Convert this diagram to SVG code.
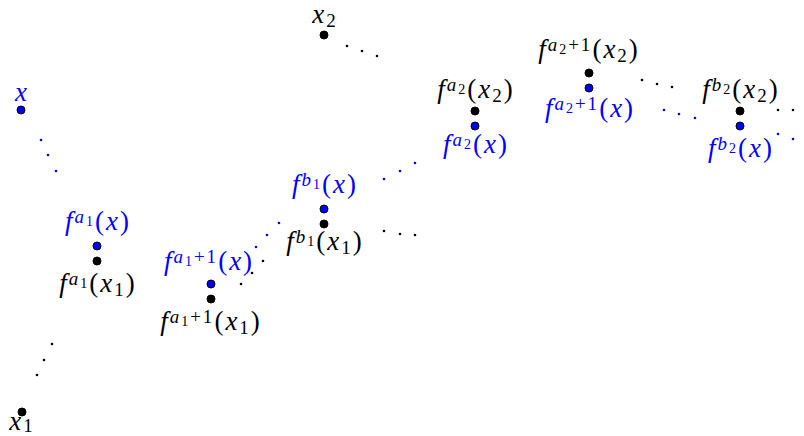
<svg xmlns="http://www.w3.org/2000/svg" width="804" height="436" viewBox="0 0 804 436">
<style>
text{font-family:"Liberation Serif","Times New Roman",serif;font-size:27px;text-anchor:middle;letter-spacing:2px}
.b{fill:#0000ff}
.k{fill:#000}
.i{font-style:italic}
.sp{font-size:19px}
.ss{font-size:14px}
.nb{fill:#0000ff;stroke:#000;stroke-width:1}
.nk{fill:#000;stroke:#000;stroke-width:1}
.db{fill:#0000ff}
.dk{fill:#000}
</style>
<rect width="804" height="436" fill="#fff"/>
<g id="connectors">
  <circle class="db" cx="41" cy="140" r="1.3"/><circle class="db" cx="48" cy="155" r="1.3"/><circle class="db" cx="56" cy="171" r="1.3"/>
  <circle class="dk" cx="52" cy="344" r="1.3"/><circle class="dk" cx="44" cy="360" r="1.3"/><circle class="dk" cx="37" cy="375" r="1.3"/>
  <circle class="dk" cx="241" cy="284" r="1.3"/><circle class="dk" cx="252" cy="273" r="1.3"/><circle class="dk" cx="263" cy="261" r="1.3"/>
  <circle class="db" cx="256" cy="247" r="1.3"/><circle class="db" cx="267" cy="235" r="1.3"/><circle class="db" cx="279" cy="223" r="1.3"/>
  <circle class="dk" cx="384" cy="231" r="1.3"/><circle class="dk" cx="400" cy="234" r="1.3"/><circle class="dk" cx="415" cy="235" r="1.3"/>
  <circle class="db" cx="384" cy="179" r="1.3"/><circle class="db" cx="400" cy="171" r="1.3"/><circle class="db" cx="415" cy="163" r="1.3"/>
  <circle class="dk" cx="347" cy="46" r="1.3"/><circle class="dk" cx="362" cy="51" r="1.3"/><circle class="dk" cx="377" cy="56" r="1.3"/>
  <circle class="dk" cx="642" cy="80" r="1.3"/><circle class="dk" cx="657" cy="84" r="1.3"/><circle class="dk" cx="672" cy="87" r="1.3"/>
  <circle class="db" cx="664" cy="110" r="1.3"/><circle class="db" cx="679" cy="114" r="1.3"/><circle class="db" cx="695" cy="118" r="1.3"/>
  <circle class="dk" cx="778" cy="110" r="1.3"/><circle class="dk" cx="793" cy="110" r="1.3"/>
  <circle class="db" cx="778" cy="134" r="1.3"/><circle class="db" cx="793" cy="139" r="1.3"/>
</g>
<g id="node-x">
  <circle class="nb" cx="21" cy="110" r="4"/>
  <text class="b i" x="22" y="101">x</text>
</g>
<g id="node-x1">
  <circle class="nk" cx="22" cy="412" r="4"/>
  <text class="k" x="22" y="430"><tspan class="i">x</tspan><tspan class="sp" dy="2">1</tspan></text>
</g>
<g id="node-fa1x">
  <circle class="nb" cx="97" cy="246" r="4"/>
  <text class="b" x="98" y="230"><tspan class="i">f</tspan><tspan class="sp i" dy="-7">a</tspan><tspan class="ss" dy="3">1</tspan><tspan dy="4">(</tspan><tspan class="i">x</tspan>)</text>
</g>
<g id="node-fa1x1">
  <circle class="nk" cx="97" cy="261" r="4"/>
  <text class="k" x="98" y="292"><tspan class="i">f</tspan><tspan class="sp i" dy="-7">a</tspan><tspan class="ss" dy="3">1</tspan><tspan dy="4">(</tspan><tspan class="i">x</tspan><tspan class="sp" dy="4">1</tspan><tspan dy="-4">)</tspan></text>
</g>
<g id="node-fa11x">
  <circle class="nb" cx="211" cy="284" r="4"/>
  <text class="b" x="209" y="270"><tspan class="i">f</tspan><tspan class="sp i" dy="-7">a</tspan><tspan class="ss" dy="3">1</tspan><tspan class="sp" dy="-3">+1</tspan><tspan dy="7">(</tspan><tspan class="i">x</tspan>)</text>
</g>
<g id="node-fa11x1">
  <circle class="nk" cx="211" cy="299" r="4"/>
  <text class="k" x="211" y="330"><tspan class="i">f</tspan><tspan class="sp i" dy="-7">a</tspan><tspan class="ss" dy="3">1</tspan><tspan class="sp" dy="-3">+1</tspan><tspan dy="7">(</tspan><tspan class="i">x</tspan><tspan class="sp" dy="4">1</tspan><tspan dy="-4">)</tspan></text>
</g>
<g id="node-fb1x">
  <circle class="nb" cx="324" cy="209" r="4"/>
  <text class="b" x="325" y="193"><tspan class="i">f</tspan><tspan class="sp i" dy="-7">b</tspan><tspan class="ss" dy="3">1</tspan><tspan dy="4">(</tspan><tspan class="i">x</tspan>)</text>
</g>
<g id="node-fb1x1">
  <circle class="nk" cx="324" cy="224" r="4"/>
  <text class="k" x="325" y="250"><tspan class="i">f</tspan><tspan class="sp i" dy="-7">b</tspan><tspan class="ss" dy="3">1</tspan><tspan dy="4">(</tspan><tspan class="i">x</tspan><tspan class="sp" dy="4">1</tspan><tspan dy="-4">)</tspan></text>
</g>
<g id="node-x2">
  <circle class="nk" cx="324" cy="35" r="4"/>
  <text class="k" x="325" y="23"><tspan class="i">x</tspan><tspan class="sp" dy="4">2</tspan></text>
</g>
<g id="node-fa2x2">
  <circle class="nk" cx="475" cy="111" r="4"/>
  <text class="k" x="476" y="98"><tspan class="i">f</tspan><tspan class="sp i" dy="-7">a</tspan><tspan class="ss" dy="3">2</tspan><tspan dy="4">(</tspan><tspan class="i">x</tspan><tspan class="sp" dy="4">2</tspan><tspan dy="-4">)</tspan></text>
</g>
<g id="node-fa2x">
  <circle class="nb" cx="475" cy="126" r="4"/>
  <text class="b" x="476" y="153"><tspan class="i">f</tspan><tspan class="sp i" dy="-7">a</tspan><tspan class="ss" dy="3">2</tspan><tspan dy="4">(</tspan><tspan class="i">x</tspan>)</text>
</g>
<g id="node-fa21x2">
  <circle class="nk" cx="589" cy="73" r="4"/>
  <text class="k" x="589" y="58"><tspan class="i">f</tspan><tspan class="sp i" dy="-7">a</tspan><tspan class="ss" dy="3">2</tspan><tspan class="sp" dy="-3">+1</tspan><tspan dy="7">(</tspan><tspan class="i">x</tspan><tspan class="sp" dy="4">2</tspan><tspan dy="-4">)</tspan></text>
</g>
<g id="node-fa21x">
  <circle class="nb" cx="589" cy="88" r="4"/>
  <text class="b" x="590" y="117"><tspan class="i">f</tspan><tspan class="sp i" dy="-7">a</tspan><tspan class="ss" dy="3">2</tspan><tspan class="sp" dy="-3">+1</tspan><tspan dy="7">(</tspan><tspan class="i">x</tspan>)</text>
</g>
<g id="node-fb2x2">
  <circle class="nk" cx="740" cy="111" r="4"/>
  <text class="k" x="741" y="98"><tspan class="i">f</tspan><tspan class="sp i" dy="-7">b</tspan><tspan class="ss" dy="3">2</tspan><tspan dy="4">(</tspan><tspan class="i">x</tspan><tspan class="sp" dy="4">2</tspan><tspan dy="-4">)</tspan></text>
</g>
<g id="node-fb2x">
  <circle class="nb" cx="740" cy="126" r="4"/>
  <text class="b" x="741" y="157"><tspan class="i">f</tspan><tspan class="sp i" dy="-7">b</tspan><tspan class="ss" dy="3">2</tspan><tspan dy="4">(</tspan><tspan class="i">x</tspan>)</text>
</g>
</svg>
